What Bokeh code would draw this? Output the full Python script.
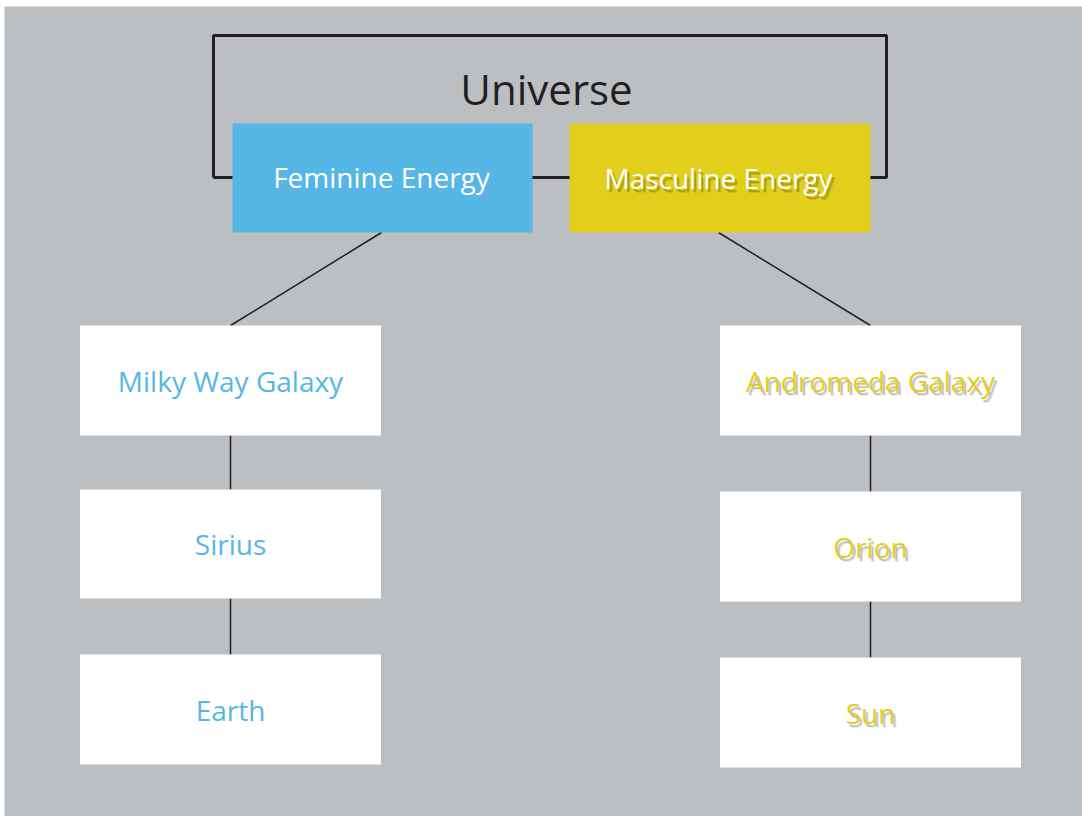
from bokeh.plotting import figure
from bokeh.models import Range1d
from bokeh.core.properties import value
from bokeh.embed import file_html
from bokeh.resources import INLINE

# ---- data ----
title_label = "Universe"
energy_labels = ["Feminine Energy", "Masculine Energy"]
left_labels = ["Milky Way Galaxy", "Sirius", "Earth"]
right_labels = ["Andromeda Galaxy", "Orion", "Sun"]

# ---- layout (pixel-like coordinates, y downward) ----
BG = "#bcbfc2"
DARK = "#231f20"
BLUE = "#56b6e6"
YELLOW = "#e2cf1c"

bracket = dict(x0=213, x1=886, y0=35, y1=177)
title_pos = (546, 88)

energy_boxes = dict(left=[232, 569], right=[532, 870], top=[123, 123], bottom=[232, 232])
energy_cx = [381, 718]
energy_cy = [176, 177]

left_cx, right_cx = 230, 870
box_w = 301
left_top = [325, 489, 654]
left_bot = [435, 598, 764]
right_top = [325, 491, 657]
right_bot = [435, 601, 767]

p = figure(width=1082, height=816, output_backend="svg", toolbar_location=None,
           x_range=Range1d(4, 1082), y_range=Range1d(816, 6),
           min_border=0, min_border_left=4, min_border_top=6,
           background_fill_color=BG, border_fill_color="white")
p.axis.visible = False
p.grid.visible = False
p.outline_line_color = None

# bracket around the two energies
p.line(x=[bracket["x0"], bracket["x0"], bracket["x1"], bracket["x1"], bracket["x0"]],
       y=[bracket["y1"], bracket["y0"], bracket["y0"], bracket["y1"], bracket["y1"]],
       line_color=DARK, line_width=3)

# connectors
p.segment(x0=[energy_cx[0], energy_cx[1]], y0=[232, 232],
          x1=[left_cx, right_cx], y1=[left_top[0], right_top[0]],
          line_color=DARK, line_width=1.5)
p.segment(x0=[left_cx] * 2 + [right_cx] * 2,
          y0=left_bot[:2] + right_bot[:2],
          x1=[left_cx] * 2 + [right_cx] * 2,
          y1=left_top[1:] + right_top[1:],
          line_color=DARK, line_width=1.5)

# energy boxes
p.quad(left=energy_boxes["left"], right=energy_boxes["right"],
       top=energy_boxes["top"], bottom=energy_boxes["bottom"],
       fill_color=[BLUE, YELLOW], line_color=None)

# white boxes
p.quad(left=[left_cx - box_w / 2] * 3 + [right_cx - box_w / 2] * 3,
       right=[left_cx + box_w / 2] * 3 + [right_cx + box_w / 2] * 3,
       top=left_top + right_top, bottom=left_bot + right_bot,
       fill_color="white", line_color=None)

FONT = value("Open Sans")

# title
p.text(x=[title_pos[0]], y=[title_pos[1]], text=[title_label], text_font=FONT,
       text_font_size="42px", text_color=DARK, text_align="center", text_baseline="middle")

# energy labels (masculine with soft shadow)
for dx, dy, a in [(2, 3, 0.30), (3, 4, 0.15)]:
    p.text(x=[energy_cx[1] + dx], y=[energy_cy[1] + dy], text=[energy_labels[1]], text_font=FONT,
           text_font_size="28px", text_color="#4a4500", text_alpha=a,
           text_align="center", text_baseline="middle")
p.text(x=energy_cx, y=energy_cy, text=energy_labels, text_font=FONT,
       text_font_size="28px", text_color="white", text_align="center", text_baseline="middle")

# left column labels
left_cy = [(t + b) / 2 for t, b in zip(left_top, left_bot)]
p.text(x=[left_cx] * 3, y=left_cy, text=left_labels, text_font=FONT,
       text_font_size="28px", text_color=BLUE, text_align="center", text_baseline="middle")

# right column labels with soft shadow
right_cy = [(t + b) / 2 for t, b in zip(right_top, right_bot)]
for dx, dy, a in [(2, 3, 0.30), (3, 4, 0.15)]:
    p.text(x=[right_cx + dx] * 3, y=[c + dy for c in right_cy], text=right_labels, text_font=FONT,
           text_font_size="28px", text_color="#555555", text_alpha=a,
           text_align="center", text_baseline="middle")
p.text(x=[right_cx] * 3, y=right_cy, text=right_labels, text_font=FONT,
       text_font_size="28px", text_color=YELLOW, text_align="center", text_baseline="middle")

open("out.html", "w").write(file_html(p, INLINE))
